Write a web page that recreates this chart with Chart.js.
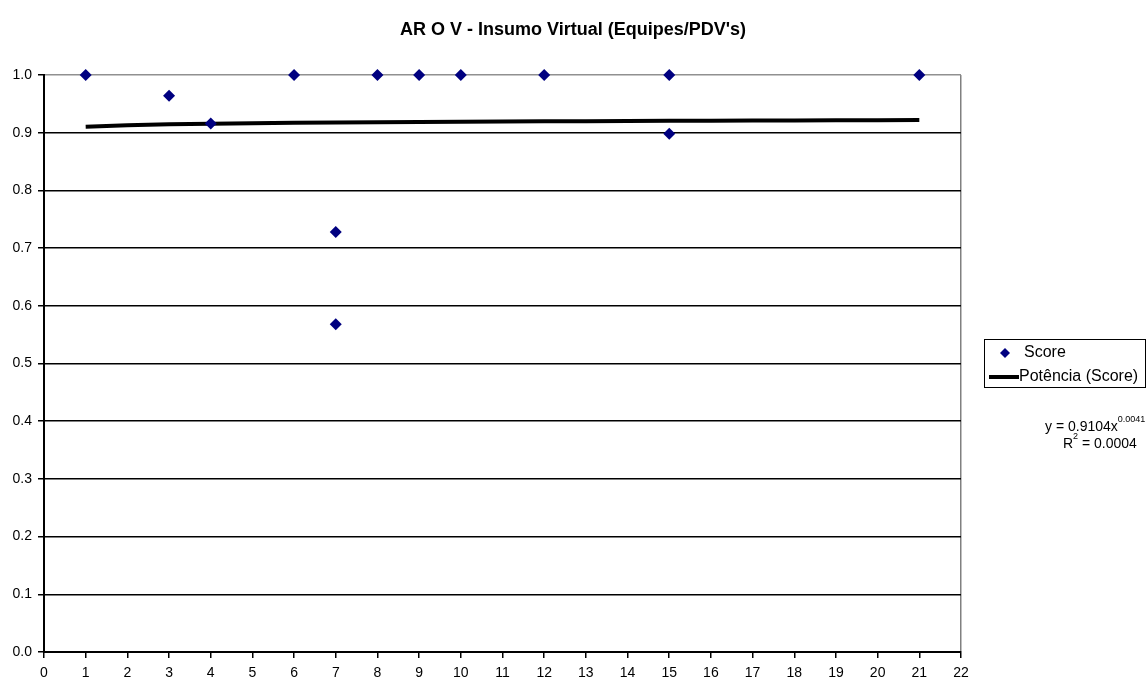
<!DOCTYPE html>
<html>
<head>
<meta charset="utf-8">
<script src="https://cdn.jsdelivr.net/npm/chart.js@4/dist/chart.umd.min.js"></script>
<style>
  html, body { margin: 0; padding: 0; background: #fff; }
  #wrap { width: 1146px; height: 684px; position: relative; }
</style>
</head>
<body>
<div id="wrap"><canvas id="myChart" width="1146" height="684"></canvas></div>
<script>
// score per x value
var scoreX = [1, 3, 4, 6, 7, 7, 8, 9, 10, 12, 15, 15, 21];
var scoreY = [1.0, 0.964, 0.916, 1.0, 0.728, 0.568, 1.0, 1.0, 1.0, 1.0, 1.0, 0.898, 1.0];

// power trendline y = a * x^b
var trendA = 0.9104;
var trendB = 0.0041;
var trendR2 = 0.0004;
var trendX = [1, 2, 3, 4, 5, 6, 7, 8, 9, 10, 11, 12, 13, 14, 15, 16, 17, 18, 19, 20, 21];

var titleText = "AR O V - Insumo Virtual (Equipes/PDV's)";
var legendLabels = ["Score", "Potência (Score)"];

var navy = "#000080";
var fontFam = "'Liberation Sans', Arial, sans-serif";

var scorePts = scoreX.map((x, i) => ({ x: x, y: scoreY[i] }));
var trendPts = trendX.map(x => ({ x: x, y: trendA * Math.pow(x, trendB) }));

// title, legend box and equation text
const extras = {
    id: "extras",
    afterDraw(chart) {
        const ctx = chart.ctx;
        ctx.save();
        ctx.fillStyle = "#000";
        ctx.textBaseline = "middle";

        ctx.font = "bold 18px " + fontFam;
        ctx.textAlign = "center";
        ctx.fillText(titleText, 573, 30);

        // legend
        ctx.strokeStyle = "#000";
        ctx.lineWidth = 1;
        ctx.strokeRect(984.5, 339.5, 161, 48);

        ctx.fillStyle = navy;
        ctx.beginPath();
        ctx.moveTo(1005, 348);
        ctx.lineTo(1010, 353);
        ctx.lineTo(1005, 358);
        ctx.lineTo(1000, 353);
        ctx.closePath();
        ctx.fill();

        ctx.strokeStyle = "#000";
        ctx.lineWidth = 4;
        ctx.beginPath();
        ctx.moveTo(989, 377);
        ctx.lineTo(1019, 377);
        ctx.stroke();

        ctx.fillStyle = "#000";
        ctx.font = "16px " + fontFam;
        ctx.textAlign = "left";
        ctx.fillText(legendLabels[0], 1024, 353);
        ctx.fillText(legendLabels[1], 1019, 377);

        // equation
        var s1 = "y = " + trendA.toFixed(4) + "x";
        ctx.font = "14px " + fontFam;
        ctx.fillText(s1, 1045, 427);
        var w1 = ctx.measureText(s1).width;
        ctx.font = "9px " + fontFam;
        ctx.fillText(trendB.toFixed(4), 1045 + w1, 420);

        ctx.font = "14px " + fontFam;
        ctx.fillText("R", 1063, 444);
        var wr = ctx.measureText("R").width;
        ctx.font = "9px " + fontFam;
        ctx.fillText("2", 1063 + wr, 437);
        ctx.font = "14px " + fontFam;
        ctx.fillText(" = " + trendR2.toFixed(4), 1063 + wr + 5, 444);
        ctx.restore();
    }
};

const config = {
    type: "scatter",
    data: {
        datasets: [{
            label: legendLabels[0],
            data: scorePts,
            backgroundColor: navy,
            borderColor: navy,
            pointStyle: "rectRot",
            pointRadius: 6,
            pointHoverRadius: 6,
            borderWidth: 0,
            clip: false,
            order: 1
        }, {
            label: legendLabels[1],
            type: "line",
            data: trendPts,
            borderColor: "#000",
            borderWidth: 4,
            pointRadius: 0,
            fill: false,
            order: 2
        }]
    },
    options: {
        responsive: false,
        animation: false,
        events: [],
        layout: { padding: { top: 75, right: 185, left: 0, bottom: 0 } },
        plugins: {
            legend: { display: false },
            title: { display: false },
            tooltip: { enabled: false }
        },
        scales: {
            x: {
                type: "linear",
                min: 0,
                max: 22,
                afterFit: s => { s.height = 32; },
                ticks: {
                    stepSize: 1,
                    color: "#000",
                    font: { family: fontFam, size: 14 },
                    padding: 7,
                    maxRotation: 0
                },
                grid: {
                    color: c => c.tick && c.tick.value === 22 ? "#808080" : "rgba(0,0,0,0)",
                    tickColor: "#000",
                    tickLength: 6,
                    lineWidth: 1.5
                },
                border: { color: "#000", width: 2 }
            },
            y: {
                min: 0,
                max: 1,
                afterFit: s => { s.width = 44; },
                ticks: {
                    stepSize: 0.1,
                    color: "#000",
                    font: { family: fontFam, size: 14 },
                    padding: 6,
                    callback: v => v.toFixed(1)
                },
                grid: {
                    color: c => c.tick && c.tick.value === 1 ? "#909090" : "#000",
                    tickColor: "#000",
                    tickLength: 6,
                    lineWidth: 1.5
                },
                border: { color: "#000", width: 2 }
            }
        }
    },
    plugins: [extras]
};

const myChart = new Chart(document.getElementById("myChart"), config);
</script>
</body>
</html>
